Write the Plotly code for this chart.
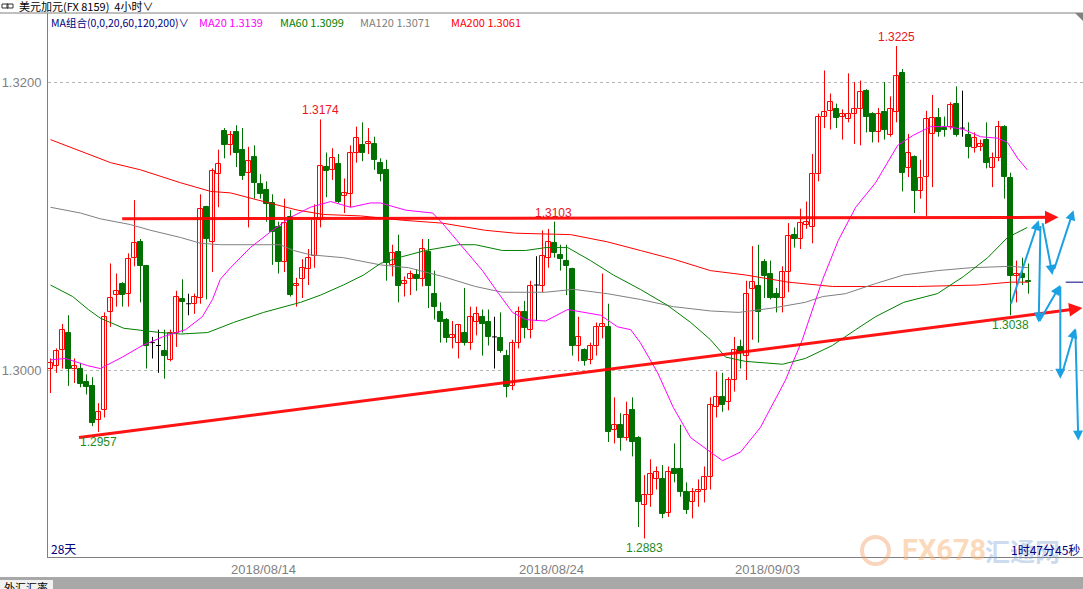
import plotly.graph_objects as go

# ---------------- data (USD/CAD 4h candles) ----------------
opens = [1.3001,1.3003,1.3014,1.3026,1.3001,1.3001,1.2992,1.2989,1.2965,1.2972,
         1.3040,1.3052,1.3060,1.3053,1.3078,1.3089,1.3072,1.3019,1.3017,1.3013,
         1.3007,1.3026,1.3049,1.3046,1.3046,1.3050,1.3113,1.3089,1.3136,1.3166,
         1.3156,1.3165,1.3153,1.3137,1.3148,1.3129,1.3125,1.3116,1.3099,1.3075,
         1.3106,1.3058,1.3063,1.3070,1.3079,1.3104,1.3141,1.3139,1.3143,1.3121,
         1.3122,1.3151,1.3156,1.3157,1.3157,1.3144,1.3139,1.3073,1.3082,1.3060,
         1.3063,1.3066,1.3063,1.3082,1.3053,1.3040,1.3035,1.3022,1.3019,1.3026,
         1.3019,1.3033,1.3037,1.3033,1.3023,1.3022,1.3010,1.2989,1.3019,1.3040,
         1.3028,1.3059,1.3058,1.3078,1.3088,1.3080,1.3076,1.3070,1.3017,1.3014,
         1.3007,1.3017,1.3030,1.3030,1.2958,1.2962,1.2953,1.2972,1.2953,1.2906,
         1.2913,1.2924,1.2924,1.2901,1.2931,1.2931,1.2915,1.2908,1.2915,1.2917,
         1.2926,1.2974,1.2981,1.2978,1.2993,1.3016,1.3010,1.3056,1.3058,1.3075,
         1.3067,1.3053,1.3050,1.3068,1.3094,1.3091,1.3101,1.3099,1.3136,1.3176,
         1.3180,1.3181,1.3176,1.3174,1.3178,1.3181,1.3194,1.3178,1.3165,1.3179,
         1.3163,1.3179,1.3206,1.3140,1.3148,1.3124,1.3134,1.3164,1.3175,1.3168,
         1.3169,1.3185,1.3168,1.3163,1.3154,1.3155,1.3160,1.3140,1.3147,1.3169,
         1.3133,1.3065,1.3067,1.3062]
highs = [1.3008,1.3015,1.3032,1.3038,1.3008,1.3005,1.2997,1.2995,1.2977,1.3040,
         1.3074,1.3067,1.3061,1.3081,1.3118,1.3091,1.3073,1.3023,1.3028,1.3028,
         1.3028,1.3055,1.3063,1.3053,1.3053,1.3122,1.3114,1.3140,1.3153,1.3168,
         1.3166,1.3170,1.3168,1.3155,1.3156,1.3136,1.3131,1.3122,1.3103,1.3119,
         1.3111,1.3064,1.3077,1.3084,1.3115,1.3174,1.3151,1.3154,1.3150,1.3133,
         1.3156,1.3169,1.3172,1.3168,1.3162,1.3147,1.3146,1.3087,1.3094,1.3065,
         1.3069,1.3070,1.3091,1.3091,1.3069,1.3047,1.3036,1.3034,1.3032,1.3057,
         1.3044,1.3044,1.3042,1.3042,1.3037,1.3040,1.3014,1.3021,1.3044,1.3048,
         1.3062,1.3079,1.3097,1.3098,1.3103,1.3087,1.3087,1.3071,1.3037,1.3015,
         1.3019,1.3033,1.3067,1.3046,1.2981,1.2970,1.2978,1.2981,1.2954,1.2927,
         1.2938,1.2933,1.2934,1.2933,1.2949,1.2962,1.2922,1.2918,1.2924,1.2933,
         1.2981,1.2999,1.2998,1.2995,1.3023,1.3021,1.3062,1.3086,1.3087,1.3077,
         1.3076,1.3057,1.3072,1.3102,1.3099,1.3112,1.3117,1.3150,1.3178,1.3208,
         1.3192,1.3185,1.3181,1.3206,1.3200,1.3201,1.3195,1.3179,1.3182,1.3200,
         1.3190,1.3225,1.3209,1.3164,1.3149,1.3146,1.3180,1.3191,1.3182,1.3176,
         1.3186,1.3197,1.3194,1.3172,1.3165,1.3160,1.3172,1.3151,1.3173,1.3170,
         1.3137,1.3076,1.3078,1.3074]
lows = [1.2984,1.2998,1.3001,1.2989,1.2991,1.2988,1.2983,1.2961,1.2957,1.2967,
        1.3030,1.3044,1.3044,1.3044,1.3072,1.3047,1.3001,1.3008,1.2998,1.2994,
        1.3006,1.3016,1.3026,1.3038,1.3039,1.3046,1.3049,1.3068,1.3113,1.3147,
        1.3149,1.3141,1.3132,1.3099,1.3119,1.3119,1.3103,1.3073,1.3067,1.3068,
        1.3051,1.3044,1.3050,1.3059,1.3071,1.3099,1.3120,1.3132,1.3116,1.3109,
        1.3113,1.3144,1.3145,1.3150,1.3139,1.3131,1.3062,1.3065,1.3047,1.3051,
        1.3052,1.3055,1.3058,1.3043,1.3035,1.3019,1.3019,1.3015,1.3008,1.3017,
        1.3014,1.3024,1.3010,1.3017,1.3001,1.3012,1.2981,1.2986,1.3015,1.3022,
        1.3022,1.3034,1.3054,1.3071,1.3078,1.3069,1.3052,1.3010,1.3006,1.3003,
        1.3004,1.3010,1.3022,1.2950,1.2949,1.2944,1.2951,1.2940,1.2891,1.2883,
        1.2905,1.2917,1.2897,1.2898,1.2922,1.2912,1.2900,1.2897,1.2905,1.2908,
        1.2917,1.2967,1.2971,1.2972,1.2985,1.3001,1.2993,1.3021,1.3019,1.3050,
        1.3049,1.3040,1.3040,1.3054,1.3085,1.3084,1.3098,1.3088,1.3131,1.3168,
        1.3167,1.3168,1.3160,1.3172,1.3157,1.3156,1.3165,1.3158,1.3158,1.3160,
        1.3162,1.3172,1.3124,1.3134,1.3109,1.3119,1.3107,1.3127,1.3162,1.3162,
        1.3167,1.3162,1.3162,1.3147,1.3151,1.3152,1.3140,1.3127,1.3145,1.3119,
        1.3038,1.3047,1.3059,1.3053]
closes = [1.3005,1.3013,1.3028,1.3001,1.3003,1.2990,1.2988,1.2963,1.2971,1.3037,
          1.3050,1.3055,1.3052,1.3077,1.3088,1.3072,1.3017,1.3019,1.3017,1.3010,
          1.3026,1.3051,1.3047,1.3046,1.3051,1.3112,1.3091,1.3138,1.3143,1.3156,
          1.3163,1.3151,1.3135,1.3145,1.3130,1.3122,1.3115,1.3096,1.3075,1.3102,
          1.3052,1.3060,1.3071,1.3078,1.3105,1.3142,1.3138,1.3147,1.3117,1.3123,
          1.3151,1.3161,1.3151,1.3158,1.3146,1.3136,1.3074,1.3081,1.3058,1.3062,
          1.3067,1.3063,1.3084,1.3058,1.3044,1.3033,1.3022,1.3024,1.3031,1.3019,
          1.3037,1.3039,1.3032,1.3023,1.3023,1.3013,1.2988,1.3019,1.3040,1.3029,
          1.3058,1.3059,1.3079,1.3089,1.3081,1.3077,1.3072,1.3017,1.3023,1.3006,
          1.3017,1.3030,1.3032,1.2957,1.2962,1.2953,1.2969,1.2950,1.2908,1.2913,
          1.2928,1.2929,1.2900,1.2929,1.2928,1.2915,1.2903,1.2915,1.2917,1.2926,
          1.2976,1.2981,1.2976,1.2993,1.3014,1.3012,1.3053,1.3061,1.3040,1.3065,
          1.3050,1.3050,1.3068,1.3093,1.3091,1.3102,1.3103,1.3136,1.3176,1.3179,
          1.3186,1.3175,1.3178,1.3178,1.3181,1.3193,1.3176,1.3165,1.3178,1.3167,
          1.3181,1.3204,1.3137,1.3151,1.3124,1.3133,1.3174,1.3175,1.3165,1.3167,
          1.3184,1.3163,1.3168,1.3155,1.3161,1.3157,1.3144,1.3147,1.3169,1.3134,
          1.3065,1.3067,1.3064,1.3061]

# moving averages (sampled along the curves: bar index, price)
ma20_x = [0,2.5,6.2,8.3,12,15.3,18.7,22.5,25.3,27,28.3,30,33.3,36.7,40,43.3,46.7,50,53.3,55,
          59.2,63.7,65.3,68.7,72,74.7,77,79.2,82.5,86.2,91.7,94.5,96.7,98.3,101.2,103.8,106.7,110,112,115,
          118.3,122.5,125.3,128.7,131.3,134.2,137.5,141.2,143.8,146.7,149.5,152.2,155,157.8,159.5,161.2,162.8]
ma20_y = [1.3007,1.3008,1.3003,1.3001,1.3009,1.3017,1.3023,1.3028,1.3037,1.3049,1.3063,1.3071,1.3085,1.3096,1.3106,1.3113,1.3117,1.3113,1.3116,1.3116,
          1.3111,1.3109,1.3102,1.3085,1.3069,1.3053,1.3040,1.3035,1.3034,1.3042,1.3038,1.3030,1.3028,1.3019,1.2998,1.2974,1.2953,1.2943,1.2937,1.2943,
          1.2960,1.2993,1.3021,1.3063,1.3090,1.3113,1.3130,1.3156,1.3163,1.3169,1.3169,1.3167,1.3162,1.3161,1.3158,1.3147,1.3139]
ma60_x = [0,3.7,6.3,8.3,12.2,18.3,21.7,26.2,30.5,35.5,41.7,45,48.8,52.2,55,58,62.5,68,70.8,75.3,
          79.2,82.5,86.2,90,93.8,98.3,102.8,106.7,110,112.5,115.8,122,125.8,130.3,134.2,137.5,142.2,147.8,152.2,156.2,
          159.5,162.8]
ma60_y = [1.3059,1.3051,1.3042,1.3036,1.3029,1.3026,1.3025,1.3026,1.3033,1.3040,1.3047,1.3052,1.3059,1.3066,1.3074,1.3078,1.3083,1.3087,1.3087,1.3083,
          1.3083,1.3085,1.3085,1.3076,1.3066,1.3056,1.3045,1.3033,1.3021,1.3009,1.3006,1.3004,1.3008,1.3017,1.3028,1.3037,1.3047,1.3053,1.3065,1.3078,
          1.3092,1.3099]
ma120_x = [0,5,8.3,13.3,16.7,21.7,25,28.3,38.3,40.5,43.3,48.8,55,59.7,65.3,70.8,75.3,82.5,87.2,92.8,
           98.3,103.8,110,114.7,120.3,125.8,128.7,132.5,137.5,142.2,147.8,153.3,160,163]
ma120_y = [1.3113,1.3109,1.3105,1.3101,1.3097,1.3092,1.3088,1.3087,1.3087,1.3083,1.3080,1.3078,1.3073,1.3071,1.3065,1.3058,1.3054,1.3054,1.3056,1.3053,
           1.3049,1.3044,1.3041,1.3040,1.3043,1.3047,1.3051,1.3053,1.3060,1.3066,1.3069,1.3071,1.3072,1.3071]
ma200_x = [0,6.7,10,15,21.7,26.7,30,35.5,41.2,45.5,51.7,58.7,65.3,72.5,77.5,86.7,92.8,98.3,103.8,110,
           115.8,123,130.3,144.5,154.5,160,163]
ma200_y = [1.3160,1.3149,1.3144,1.3139,1.3130,1.3124,1.3123,1.3117,1.3111,1.3108,1.3107,1.3104,1.3102,1.3097,1.3095,1.3094,1.3089,1.3083,1.3077,1.3069,
           1.3066,1.3061,1.3058,1.3058,1.3059,1.3061,1.3061]

date_pos = [35.5, 83.5, 119.5]
date_labels = ["2018/08/14", "2018/08/24", "2018/09/03"]
price_ticks = [1.30, 1.32]

hi_label_idx = [45, 141]
lo_label_idx = [8, 99, 160]

# hand-drawn lines: (tail bar, tail price, head bar, head price)
resistance = (11.7, 1.3105, 168.0, 1.3106)
resistance_label = (83.8, 1.3103)
support = (4.5, 1.2953, 172.0, 1.3043)
blue_arrows = [
    (160.0, 1.3045, 164.7, 1.3104),
    (165.3, 1.3103, 167.0, 1.3066),
    (167.2, 1.3069, 170.5, 1.3111),
    (165.0, 1.3101, 164.7, 1.3033),
    (164.7, 1.3033, 168.3, 1.3059),
    (168.3, 1.3059, 168.3, 1.2994),
    (168.7, 1.2999, 170.8, 1.3029),
    (170.8, 1.3029, 171.3, 1.2951),
]

# ---------------- styling ----------------
RED = "#FF0000"
GREEN = "#007000"
BLUE_ARROW = "#1BA1E2"
CJK = "Noto Sans CJK SC"
LAT = "Liberation Sans"

W, H = 1083, 589
ML, MR, MT, MB = 48, 0, 13, 32
PW, PH = W - ML - MR, H - MT - MB
X0 = -2.5 / 6
XR = [X0, X0 + PW / 6]
YR = [1.3 - (557 - 370) / 14400, 1.3 + (370 - 13) / 14400]


def px(x):
    return (x - ML) / PW


def py(y):
    return (H - MB - y) / PH


n = len(opens)
idx = list(range(n))
up = [i for i in idx if closes[i] > opens[i]]
dn = [i for i in idx if closes[i] < opens[i]]
dj = [i for i in idx if closes[i] == opens[i]]


def wicks(ids):
    xs, ys = [], []
    for i in ids:
        xs += [i, i, None]
        ys += [lows[i], highs[i], None]
    return xs, ys


fig = go.Figure()
for ids, col in ((up, RED), (dn, GREEN), (dj, "#000000")):
    wx, wy = wicks(ids)
    fig.add_trace(go.Scatter(x=wx, y=wy, mode="lines", line=dict(color=col, width=1),
                             hoverinfo="skip"))

# doji bodies
djx, djy = [], []
for i in dj:
    djx += [i - 0.4, i + 0.4, None]
    djy += [opens[i], opens[i], None]
fig.add_trace(go.Scatter(x=djx, y=djy, mode="lines", line=dict(color="#000000", width=1),
                         hoverinfo="skip"))

fig.add_trace(go.Bar(x=up, base=[opens[i] for i in up],
                     y=[closes[i] - opens[i] for i in up], width=0.68,
                     marker=dict(color="white", line=dict(color=RED, width=1))))
fig.add_trace(go.Bar(x=dn, base=[closes[i] for i in dn],
                     y=[opens[i] - closes[i] for i in dn], width=0.68,
                     marker=dict(color=GREEN, line=dict(color=GREEN, width=1))))

for mx, my, col in ((ma200_x, ma200_y, "#FF0000"), (ma120_x, ma120_y, "#808080"),
                    (ma60_x, ma60_y, "#008000"), (ma20_x, ma20_y, "#FF00FF")):
    fig.add_trace(go.Scatter(x=mx, y=my, mode="lines", line=dict(color=col, width=1),
                             hoverinfo="skip"))

ann = []
# drawn trend lines with arrowheads
for (tx, ty, hx, hy) in (resistance, support):
    ann.append(dict(x=hx, y=hy, ax=tx, ay=ty, xref="x", yref="y", axref="x", ayref="y",
                    text="", showarrow=True, arrowhead=2, arrowsize=0.9, arrowwidth=3,
                    arrowcolor="rgba(255,0,0,0.92)", standoff=0))
for (tx, ty, hx, hy) in blue_arrows:
    ann.append(dict(x=hx, y=hy, ax=tx, ay=ty, xref="x", yref="y", axref="x", ayref="y",
                    text="", showarrow=True, arrowhead=2, arrowsize=1.0, arrowwidth=2,
                    arrowcolor=BLUE_ARROW, standoff=0))

# high / low labels
for i in hi_label_idx:
    ann.append(dict(x=i, y=highs[i], xref="x", yref="y", text=f"{highs[i]:.4f}",
                    showarrow=False, yanchor="middle", yshift=9,
                    font=dict(family=LAT, size=12, color="#E8141E")))
for i in lo_label_idx:
    ann.append(dict(x=i, y=lows[i], xref="x", yref="y", text=f"{lows[i]:.4f}",
                    showarrow=False, yanchor="middle", yshift=-10,
                    font=dict(family=LAT, size=12, color="#1E8A1E")))
ann.append(dict(x=resistance_label[0], y=resistance_label[1], xref="x", yref="y",
                text=f"{resistance_label[1]:.4f}", showarrow=False, yanchor="middle", yshift=9,
                font=dict(family=LAT, size=12, color="#E8141E")))


def txt(x, y, s, color, size=12, family=CJK, anchor="left", **kw):
    ann.append(dict(x=px(x), y=py(y), xref="paper", yref="paper", text=s, showarrow=False,
                    xanchor=anchor, yanchor="middle", font=dict(family=family, size=size, color=color),
                    **kw))


# header
txt(17, 6, "美元加元(FX 8159)  4小时∨", "#000000", 11)
# MA legend row
txt(49, 22, "MA组合(0,0,20,60,120,200)∨", "#000080", 10.5)
txt(197, 22, "MA20 1.3139", "#FF00FF", 11)
txt(278, 22, "MA60 1.3099", "#008000", 11)
txt(358, 22, "MA120 1.3071", "#808080", 11)
txt(449, 22, "MA200 1.3061", "#FF0000", 11)
# watermark
txt(900, 550, "<b>FX678</b>", "rgba(247,180,120,0.5)", 29, "Roboto")
txt(983, 550, "<b>汇通网</b>", "rgba(120,160,210,0.4)", 25)
# bottom texts
txt(49, 548, "28天", "#000080", 12)
txt(1082, 549, "1时47分45秒", "#000080", 12, anchor="right")
txt(2, 587, "外汇汇率", "#000000", 11)

shapes = [
    dict(type="line", xref="paper", yref="paper", x0=px(0), x1=1, y0=1, y1=1,
         line=dict(color="#808080", width=1)),
    dict(type="path", xref="paper", yref="paper",
         path=f"M {px(1075)},{py(13)} L {px(1083)},{py(13)} L {px(1083)},{py(21)} Z",
         fillcolor="#808080", line=dict(width=0)),
    # link icon in header
    dict(type="rect", xref="paper", yref="paper", x0=px(2), x1=px(8), y0=py(8), y1=py(4),
         line=dict(color="#333333", width=1)),
    dict(type="rect", xref="paper", yref="paper", x0=px(7), x1=px(13), y0=py(8), y1=py(4),
         line=dict(color="#333333", width=1)),
    dict(type="rect", xref="paper", yref="paper", x0=px(0), x1=1.0, y0=py(589), y1=py(577),
         fillcolor="#A8A8A8", line=dict(width=0)),
    dict(type="rect", xref="paper", yref="paper", x0=px(0), x1=px(53), y0=py(589), y1=py(580),
         fillcolor="#F2F2F2", line=dict(width=0)),
    dict(type="circle", xref="paper", yref="paper", x0=px(862), x1=px(889), y0=py(564), y1=py(537),
         line=dict(color="rgba(240,150,90,0.4)", width=4)),
    dict(type="line", xref="x", yref="y", x0=169.2, x1=XR[1], y0=closes[-1], y1=closes[-1],
         line=dict(color="#000080", width=1)),
]

fig.update_layout(
    width=W, height=H, margin=dict(l=ML, r=MR, t=MT, b=MB, pad=0, autoexpand=False),
    paper_bgcolor="white", plot_bgcolor="white", showlegend=False,
    barmode="overlay", bargap=0, annotations=ann, shapes=shapes, hovermode=False,
)
fig.update_xaxes(range=XR, showgrid=False, zeroline=False, showline=True, linecolor="#808080",
                 linewidth=1, tickmode="array", tickvals=date_pos, ticktext=date_labels, ticks="",
                 tickfont=dict(family=LAT, size=13, color="#7F7F7F"), fixedrange=True,
                 automargin=False)
fig.update_yaxes(range=YR, showgrid=True, gridcolor="#B4B4B4", griddash="dot", gridwidth=1,
                 zeroline=False, showline=True, linecolor="#808080", linewidth=1,
                 tickmode="array", tickvals=price_ticks, tickformat=".4f", ticks="",
                 ticklabelstandoff=3, automargin=False,
                 tickfont=dict(family=LAT, size=13, color="#7F7F7F"), fixedrange=True)

fig.write_html("out.html", config={"displayModeBar": False},
               post_script="document.body.style.margin='0';document.body.style.overflow='hidden';")
